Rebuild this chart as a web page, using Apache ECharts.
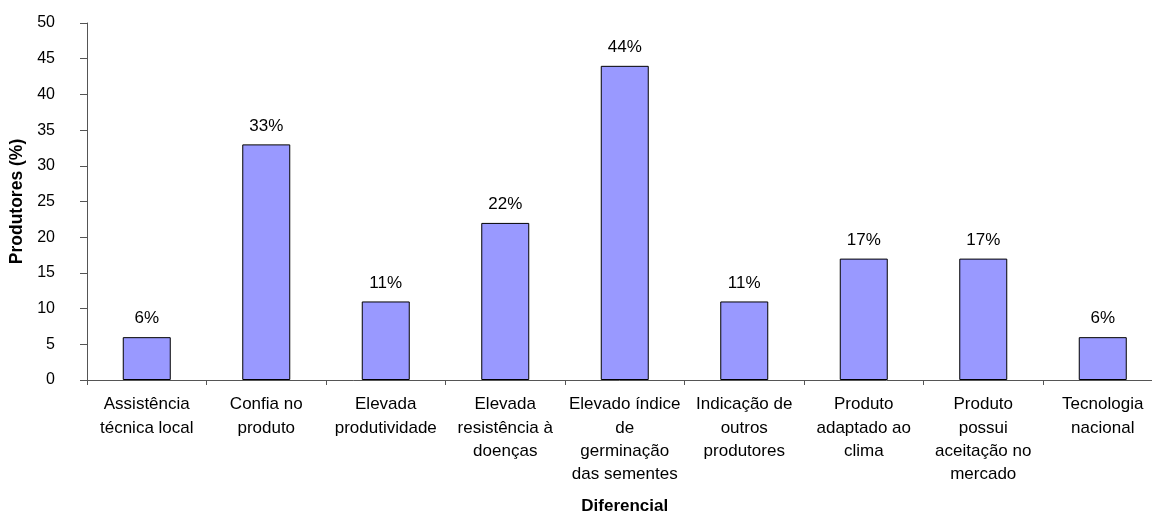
<!DOCTYPE html>
<html>
<head>
<meta charset="utf-8">
<script src="https://cdn.jsdelivr.net/npm/echarts@6/dist/echarts.min.js"></script>
<style>
html,body{margin:0;padding:0;background:#fff;}
#chart{width:1152px;height:515px;}
</style>
</head>
<body>
<div id="chart"></div>
<script>
const categories = [
  "Assistência\ntécnica local",
  "Confia no\nproduto",
  "Elevada\nprodutividade",
  "Elevada\nresistência à\ndoenças",
  "Elevado índice\nde\ngerminação\ndas sementes",
  "Indicação de\noutros\nprodutores",
  "Produto\nadaptado ao\nclima",
  "Produto\npossui\naceitação no\nmercado",
  "Tecnologia\nnacional"
];
const produtores = [6, 33, 11, 22, 44, 11, 17, 17, 6];
const yTicks = { min: 0, max: 50, interval: 5 };

const FONT = "'Liberation Sans', Arial, sans-serif";
const chart = echarts.init(document.getElementById('chart'), null, {renderer: 'canvas'});
chart.setOption({
  animation: false,
  backgroundColor: '#ffffff',
  grid: { left: 87, right: -10.5, top: 23, bottom: 135, containLabel: false, outerBoundsMode: 'none' },
  xAxis: {
    type: 'category',
    data: categories,
    boundaryGap: true,
    name: 'Diferencial',
    nameLocation: 'middle',
    nameGap: 118,
    nameTextStyle: { fontFamily: FONT, fontSize: 17, fontWeight: 'bold', color: '#000' },
    axisLine: { lineStyle: { color: '#555', width: 1 } },
    axisTick: { show: true, length: 5, lineStyle: { color: '#555' } },
    axisLabel: { interval: 0, margin: 13, fontFamily: FONT, fontSize: 17, color: '#000', lineHeight: 23.3, align: 'center' }
  },
  yAxis: {
    type: 'value',
    min: yTicks.min, max: yTicks.max, interval: yTicks.interval,
    name: 'Produtores (%)',
    nameLocation: 'middle',
    nameGap: 61,
    nameTextStyle: { fontFamily: FONT, fontSize: 17.5, fontWeight: 'bold', color: '#000' },
    axisLine: { show: true, lineStyle: { color: '#555', width: 1 } },
    axisTick: { show: true, length: 7, lineStyle: { color: '#555' } },
    splitLine: { show: false },
    axisLabel: { margin: 32, fontFamily: FONT, fontSize: 16, color: '#000' }
  },
  series: [{
    type: 'bar',
    data: produtores,
    barWidth: 48,
    itemStyle: { color: '#9999FF', borderColor: '#000', borderWidth: 1 },
    label: {
      show: true, position: 'top', distance: 10,
      formatter: p => p.value + '%',
      fontFamily: FONT, fontSize: 17, color: '#000'
    }
  }]
});
</script>
</body>
</html>
